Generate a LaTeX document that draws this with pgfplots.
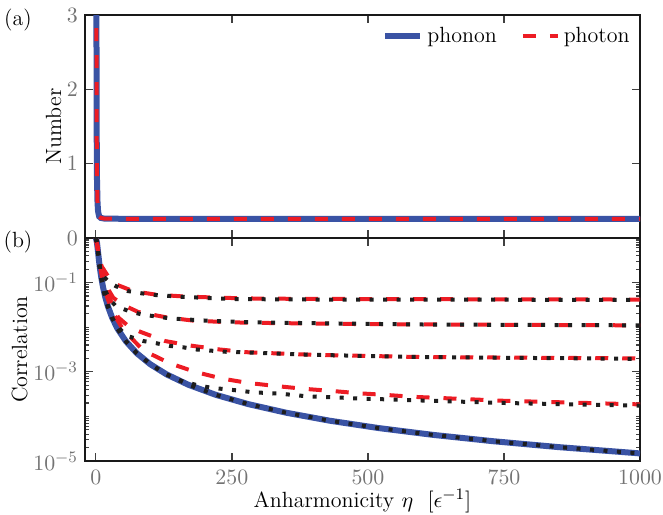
\documentclass[border=0pt]{standalone}
\usepackage{pgfplots}
\pgfplotsset{compat=1.18}
\definecolor{cblue}{RGB}{58,83,164}
\definecolor{cred}{RGB}{237,28,36}
\definecolor{cdot}{RGB}{30,30,30}
\begin{document}
\begin{tikzpicture}
\pgfplotsset{
  myax/.style={
    scale only axis, width=277.5pt, height=111.5pt,
    xmin=-20, xmax=1000,
    xtick={0,250,500,750,1000},
    /pgf/number format/1000 sep={},
    tick align=inside, xtick pos=both, ytick pos=both,
    major tick length=4pt, minor tick length=2pt,
    axis line style={line width=1pt, black!90},
    tick style={black!75, line width=0.6pt},
    ticklabel style={font=\fontsize{11}{13}\selectfont, text=black!55},
    xticklabel style={yshift=-1pt},
    label style={font=\fontsize{11}{13}\selectfont},
    ylabel shift=-4pt,
  },
  bl/.style={cblue, line width=3pt},
  rd/.style={cred, line width=2pt, dash pattern=on 6.5pt off 7pt},
  dt/.style={cdot, line width=2pt, dash pattern=on 2pt off 4.75pt},
}
\begin{axis}[myax, name=top,
  ymin=0, ymax=3, ytick={0,1,2,3}, xticklabels={},
  ylabel={Number},
  legend columns=2,
  legend style={draw=none, fill=none, at={(rel axis cs:1.0,0.985)}, anchor=north east,
    font=\fontsize{11}{13}\selectfont,
    /tikz/every even column/.append style={column sep=10pt}},
  legend image code/.code={\draw[#1] (0pt,0pt) -- (17.5pt,0pt);},
]
\addplot[bl] coordinates {(0.3,9) (0.6,5) (1,3.0) (1.5,1.4) (2,0.8) (3,0.48) (4,0.36) (6,0.29) (9,0.27) (15,0.262) (50,0.258) (1000,0.256)};
\addlegendentry{phonon}
\addplot[rd] coordinates {(0.3,9) (0.6,5) (1,3.0) (1.5,1.4) (2,0.8) (3,0.48) (4,0.36) (6,0.29) (9,0.27) (15,0.262) (50,0.258) (1000,0.256)};
\addlegendentry{photon}
\end{axis}
\begin{axis}[myax, name=bot, at={(top.south west)}, anchor=north west,
  ymode=log, ymin=1e-5, ymax=1,
  ytick={1e-5,1e-3,1e-1},
  yticklabels={$10^{-5}$,$10^{-3}$,$10^{-1}$},
  minor ytick={2e-5,3e-5,4e-5,5e-5,6e-5,7e-5,8e-5,9e-5,1e-4,2e-4,3e-4,4e-4,5e-4,6e-4,7e-4,8e-4,9e-4,2e-3,3e-3,4e-3,5e-3,6e-3,7e-3,8e-3,9e-3,1e-2,2e-2,3e-2,4e-2,5e-2,6e-2,7e-2,8e-2,9e-2,2e-1,3e-1,4e-1,5e-1,6e-1,7e-1,8e-1,9e-1},
  ylabel={Correlation},
  xlabel={Anharmonicity $\eta$\ \ $[\epsilon^{-1}]$},
  xlabel style={at={(axis description cs:0.5,0)}, anchor=center, yshift=-20pt},
]
% phonon correlation (blue)
\addplot[bl] coordinates {(0,1) (2,0.787) (4,0.480) (6,0.291) (8,0.1877) (10,0.1289) (13,0.0805) (17,0.0487) (22,0.02966) (30,0.01617) (40,0.00916) (55,0.00487) (75,0.00262) (100,0.001477) (130,0.000875) (170,0.000512) (220,0.0003056) (280,0.0001887) (350,0.0001208) (430,8.0e-5) (520,5.47e-5) (620,3.85e-5) (730,2.78e-5) (850,2.05e-5) (1000,1.48e-5)};
% photon correlations (red dashed)
\addplot[rd] coordinates {(0,1) (3,0.631) (6,0.380) (10.4,0.234) (25.7,0.120) (35,0.0933) (68,0.0646) (110,0.0537) (160,0.0490) (230,0.0457) (300,0.0437) (500,0.0427) (1000,0.0417)};
\addplot[rd] coordinates {(0,1) (3,0.631) (6,0.380) (10,0.200) (20,0.0794) (32,0.0457) (50,0.0316) (78,0.0219) (130,0.0166) (178,0.0141) (228,0.0132) (277,0.0126) (500,0.0117) (1000,0.0110)};
\addplot[rd] coordinates {(0,1) (3,0.631) (6,0.380) (10,0.19) (20,0.0708) (30,0.0316) (41,0.0166) (60,0.0105) (81,0.00794) (127,0.0049) (173,0.00389) (228,0.00316) (277,0.00275) (400,0.0024) (600,0.00214) (1000,0.0020)};
\addplot[rd] coordinates {(0,1) (3,0.631) (6,0.380) (10,0.158) (20,0.0501) (30,0.0224) (50,0.00891) (87,0.00302) (136,0.00155) (182,0.0010) (231,7.08e-4) (280,5.62e-4) (332,4.79e-4) (381,4.17e-4) (434,3.72e-4) (482,3.31e-4) (535,3.02e-4) (583,2.75e-4) (750,2.24e-4) (1000,1.86e-4)};
% black dotted
\addplot[dt] coordinates {(0,1) (2,0.787) (4,0.480) (6,0.291) (8,0.20) (11,0.158) (14.7,0.135) (25,0.100) (36.8,0.0832) (59,0.0646) (84,0.0575) (111,0.0525) (136,0.0501) (160,0.0479) (213,0.0447) (261,0.0427) (400,0.0417) (600,0.0417) (1000,0.0407)};
\addplot[dt] coordinates {(0,1) (2,0.787) (4,0.480) (6,0.291) (8,0.1877) (10,0.1289) (13.5,0.0871) (20,0.0562) (27,0.0398) (37,0.0295) (61,0.0229) (86,0.0191) (111,0.0174) (136,0.0158) (160,0.0151) (213,0.0138) (287,0.0129) (400,0.0123) (600,0.0115) (1000,0.0110)};
\addplot[dt] coordinates {(0,1) (2,0.787) (4,0.480) (6,0.291) (8,0.1877) (10,0.1289) (13,0.0805) (17,0.0487) (22,0.02966) (30,0.01617) (40,0.0105) (50,0.00759) (59,0.00631) (87,0.00490) (111,0.00437) (136,0.00380) (160,0.00355) (185,0.00316) (237,0.00282) (289,0.00269) (400,0.00240) (600,0.00214) (1000,0.00195)};
\addplot[dt] coordinates {(0,1) (2,0.787) (4,0.480) (6,0.291) (8,0.1877) (10,0.1289) (13,0.0805) (17,0.0487) (22,0.02966) (30,0.01617) (40,0.00916) (55,0.00487) (75,0.00262) (100,0.001477) (130,0.000875) (160,6.03e-4) (190,4.90e-4) (213,4.37e-4) (262,3.80e-4) (289,3.47e-4) (338,3.24e-4) (388,2.82e-4) (436,2.69e-4) (485,2.51e-4) (540,2.40e-4) (590,2.29e-4) (750,2.00e-4) (1000,1.74e-4)};
\addplot[dt] coordinates {(0,1) (2,0.787) (4,0.480) (6,0.291) (8,0.1877) (10,0.1289) (13,0.0805) (17,0.0487) (22,0.02966) (30,0.01617) (40,0.00916) (55,0.00487) (75,0.00262) (100,0.001477) (130,0.000875) (170,0.000512) (220,0.0003056) (280,0.0001887) (350,0.0001208) (430,8.0e-5) (520,5.47e-5) (620,3.85e-5) (730,2.78e-5) (850,2.05e-5) (1000,1.48e-5)};
\end{axis}
\node[font=\fontsize{11}{13}\selectfont, anchor=center] at ([xshift=-33.5pt,yshift=-2.5pt]top.north west) {(a)};
\node[font=\fontsize{11}{13}\selectfont, anchor=center] at ([xshift=-33.5pt,yshift=-2pt]bot.north west) {(b)};
\pgfresetboundingbox
\path[use as bounding box] ([xshift=-42.5pt,yshift=-26.75pt]bot.south west) rectangle ([xshift=11.5pt,yshift=7.5pt]top.north east);
\end{tikzpicture}
\end{document}
